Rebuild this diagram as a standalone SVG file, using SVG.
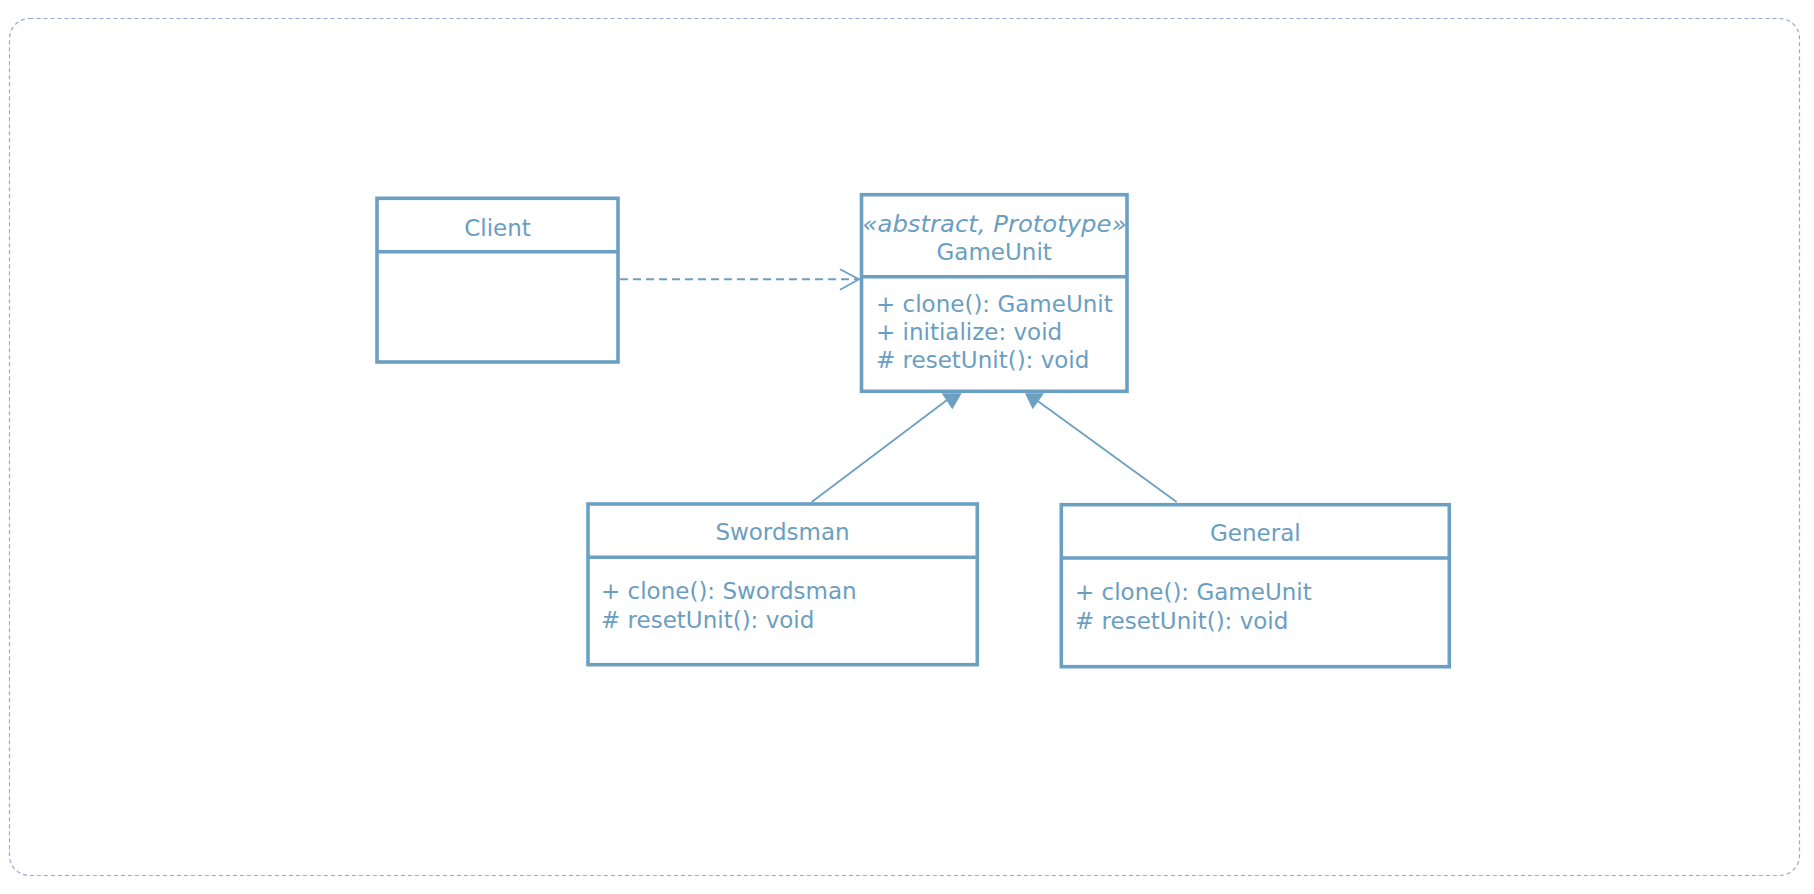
<svg xmlns="http://www.w3.org/2000/svg" width="1814" height="894" viewBox="0 0 1814 894">
<style>
.box{fill:#ffffff;stroke:#6ca0c3;stroke-width:3.6}
.t{font-family:"DejaVu Sans","Liberation Sans",sans-serif;font-size:23px;fill:#6a9ec1}
.title{text-anchor:middle}
.st{font-style:italic}
.edge{fill:none;stroke:#6ca0c3;stroke-width:1.8}
.dash{fill:none;stroke:#6ca0c3;stroke-width:2;stroke-dasharray:8 5}
.head{fill:#6ca0c3;stroke:none}
</style>
<rect x="9.5" y="18.5" width="1790" height="857" rx="20" ry="20" fill="none" stroke="#97a8d4" stroke-width="1.2" stroke-dasharray="4 3"/>
<g id="connectors">
<path class="dash" d="M620,279.3 L857,279.3"/>
<path class="edge" d="M840,269.3 L859,279.3 L840,289.7" stroke-width="2"/>
<path class="edge" d="M811.7,502 L947,400"/>
<polygon class="head" points="941.7,393.3 961.7,393.3 952.3,409.3"/>
<path class="edge" d="M1176.7,502 L1037,400.5"/>
<polygon class="head" points="1025,393.3 1044,393.3 1032.7,409.3"/>
</g>
<g id="client">
<rect class="box" x="377" y="198.3" width="241" height="163.7"/>
<line class="box" x1="377" y1="251.7" x2="618" y2="251.7"/>
<text class="t title" x="497.5" y="236">Client</text>
</g>
<g id="gameunit">
<rect class="box" x="861.5" y="194.7" width="265.5" height="196.6"/>
<line class="box" x1="861.5" y1="276.7" x2="1127" y2="276.7"/>
<text class="t title st" x="994.5" y="231.5" textLength="264" lengthAdjust="spacingAndGlyphs">«abstract, Prototype»</text>
<text class="t title" x="994.2" y="260">GameUnit</text>
<text class="t" x="876" y="311.7">+ clone(): GameUnit</text>
<text class="t" x="876" y="339.5">+ initialize: void</text>
<text class="t" x="876" y="368.3"># resetUnit(): void</text>
</g>
<g id="swordsman">
<rect class="box" x="588" y="504" width="389.3" height="160.7"/>
<line class="box" x1="588" y1="557.3" x2="977.3" y2="557.3"/>
<text class="t title" x="782.5" y="540">Swordsman</text>
<text class="t" x="601" y="599.3">+ clone(): Swordsman</text>
<text class="t" x="601" y="628.3"># resetUnit(): void</text>
</g>
<g id="general">
<rect class="box" x="1061.3" y="504.7" width="388" height="162"/>
<line class="box" x1="1061.3" y1="558" x2="1449.3" y2="558"/>
<text class="t title" x="1255.3" y="541">General</text>
<text class="t" x="1075" y="600">+ clone(): GameUnit</text>
<text class="t" x="1075" y="629.3"># resetUnit(): void</text>
</g>
</svg>
